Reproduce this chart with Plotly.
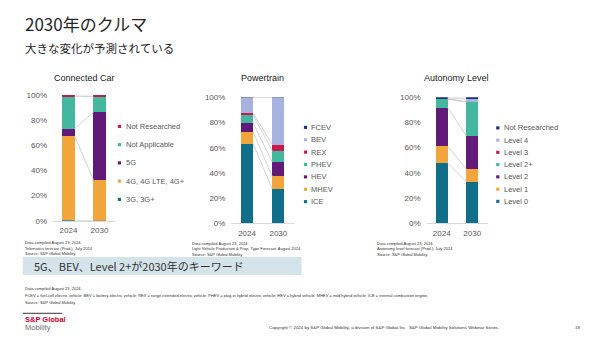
import plotly.graph_objects as go
import numpy as np

W, H = 602, 340
years = ["2024", "2030"]

# ---- Data (percent shares) ----
cc_series = ["3G, 3G+", "4G, 4G LTE, 4G+", "5G", "Not Applicable", "Not Researched"]
cc_2024 = [0.3, 67.0, 5.9, 25.6, 1.2]
cc_2030 = [0.1, 32.6, 53.4, 12.5, 1.4]

pt_series = ["ICE", "MHEV", "HEV", "PHEV", "REX", "BEV", "FCEV"]
pt_2024 = [63.3, 9.1, 7.4, 6.0, 1.5, 12.6, 0.1]
pt_2030 = [27.1, 10.1, 11.4, 9.0, 4.9, 37.3, 0.2]

al_series = ["Level 0", "Level 1", "Level 2", "Level 2+", "Level 3", "Level 4", "Not Researched"]
al_2024 = [47.6, 13.3, 30.9, 6.7, 0.1, 0.1, 1.3]
al_2030 = [33.0, 10.3, 26.1, 26.7, 0.4, 2.2, 1.3]

chart_titles = ["Connected Car", "Powertrain", "Autonomy Level"]
y_ticks = [0, 20, 40, 60, 80, 100]
y_tick_labels = ["0%", "20%", "40%", "60%", "80%", "100%"]

# ---- Colours ----
TEAL, ORANGE, PURPLE, GREEN = "#0f6f8a", "#f2a53b", "#621a78", "#44b79f"
RED, LAV, NAVY = "#c9184a", "#a8b2e0", "#1f2e78"
cc_colors = [TEAL, ORANGE, PURPLE, GREEN, RED]
pt_colors = [TEAL, ORANGE, PURPLE, GREEN, RED, LAV, NAVY]
al_colors = [TEAL, ORANGE, PURPLE, GREEN, RED, LAV, NAVY]

LAT = "Liberation Sans, Arial, sans-serif"
JP = "Noto Sans CJK JP, sans-serif"


def px(x):
    return x / W


def py(y):
    return 1 - y / H


BW = 0.39
fig = go.Figure()

charts = [
    dict(series=cc_series, v1=cc_2024, v2=cc_2030, colors=cc_colors,
         xdom=(53, 115), ydom=(222.7, 93.3),
         leg_mx=119.4, leg_tx=124.0, leg_y0=125.7, leg_dy=18.75),
    dict(series=pt_series, v1=pt_2024, v2=pt_2030, colors=pt_colors,
         xdom=(231.4, 294.0), ydom=(225.0, 96.0),
         leg_mx=305.5, leg_tx=309.0, leg_y0=126.7, leg_dy=12.72),
    dict(series=al_series, v1=al_2024, v2=al_2030, colors=al_colors,
         xdom=(426.5, 487.5), ydom=(225.3, 95.7),
         leg_mx=497.8, leg_tx=501.7, leg_y0=127.3, leg_dy=12.57),
]

annotations = []
shapes = []

for i, c in enumerate(charts):
    sfx = "" if i == 0 else str(i + 1)
    xa, ya = "x" + sfx, "y" + sfx
    for name, a, b, col in zip(c["series"], c["v1"], c["v2"], c["colors"]):
        fig.add_trace(go.Bar(x=[0, 1], y=[a, b], name=name, marker_color=col,
                             marker_line_width=0, width=BW, xaxis=xa, yaxis=ya,
                             showlegend=False))
    # series lines
    c1 = np.cumsum(c["v1"])
    c2 = np.cumsum(c["v2"])
    lx, ly = [], []
    for a, b in zip(c1, c2):
        lx += [BW / 2, 1 - BW / 2, None]
        ly += [a, b, None]
    fig.add_trace(go.Scatter(x=lx, y=ly, mode="lines", xaxis=xa, yaxis=ya,
                             line=dict(color="#c8c8c8", width=0.8),
                             showlegend=False, hoverinfo="skip"))
    xd = [px(c["xdom"][0]), px(c["xdom"][1])]
    yd = [py(c["ydom"][0]), py(c["ydom"][1])]
    fig.update_layout(**{
        "xaxis" + sfx: dict(domain=xd, range=[-0.5, 1.5], tickvals=[0, 1], ticktext=years,
                            showgrid=False, zeroline=False, showline=True,
                            linecolor="#d9d9d9", linewidth=1, anchor=ya,
                            tickfont=dict(family=LAT, size=8, color="#595959"),
                            ticks="", ticklabelstandoff=2, fixedrange=True),
        "yaxis" + sfx: dict(domain=yd, range=[0, 100], tickvals=y_ticks, ticktext=y_tick_labels,
                            showgrid=False, zeroline=False, showline=False, anchor=xa,
                            tickfont=dict(family=LAT, size=8, color="#595959"),
                            ticks="", ticklabelstandoff=5, fixedrange=True),
    })
    # chart title
    annotations.append(dict(text=chart_titles[i], x=(xd[0] + xd[1]) / 2, y=py(76),
                            xref="paper", yref="paper", showarrow=False,
                            xanchor="center", yanchor="middle",
                            font=dict(family=LAT, size=9, color="#1a1a1a")))
    # custom legend (top item = top of stack)
    for k, (name, col) in enumerate(zip(c["series"][::-1], c["colors"][::-1])):
        yy = c["leg_y0"] + k * c["leg_dy"]
        shapes.append(dict(type="rect", xref="paper", yref="paper",
                           x0=px(c["leg_mx"] - 1.6), x1=px(c["leg_mx"] + 1.6),
                           y0=py(yy + 1.6), y1=py(yy - 1.6),
                           fillcolor=col, line_width=0))
        annotations.append(dict(text=name, x=px(c["leg_tx"]), y=py(yy),
                                xref="paper", yref="paper", showarrow=False,
                                xanchor="left", yanchor="middle",
                                font=dict(family=LAT, size=7.5, color="#595959")))

# Slide title texts
annotations.append(dict(text="2030年のクルマ", x=px(22.5), y=py(20), xref="paper", yref="paper",
                        showarrow=False, xanchor="left", yanchor="middle",
                        font=dict(family=JP, size=17, color="#262626")))
annotations.append(dict(text="大きな変化が予測されている", x=px(23), y=py(45.7), xref="paper",
                        yref="paper", showarrow=False, xanchor="left", yanchor="middle",
                        font=dict(family=JP, size=11.5, color="#262626")))

# notes under charts
notes = [
    ["Data compiled August 23, 2024.", "Telematics forecast (Prod.), July 2024",
     "Source: S&P Global Mobility."],
    ["Data compiled August 23, 2024.", "Light Vehicle Production & Prop. Type Forecast, August 2024",
     "Source: S&P Global Mobility"],
    ["Data compiled August 23, 2024.", "Autonomy level forecast (Prod.), July 2024",
     "Source: S&P Global Mobility."],
]
note_pos = [(23, 245.0), (190, 245.5), (375, 245.7)]
for lines, (nx, ny) in zip(notes, note_pos):
    for k, t in enumerate(lines):
        annotations.append(dict(text=t, x=px(nx), y=py(ny + k * 5.7), xref="paper", yref="paper",
                                showarrow=False, xanchor="left", yanchor="middle",
                                font=dict(family=LAT, size=4, color="#333333")))

# key message box
shapes.append(dict(type="rect", xref="paper", yref="paper", x0=px(22.7), x1=px(301.5),
                   y0=py(278.3), y1=py(260), fillcolor="#d4e4ea", line_width=0, layer="below"))
annotations.append(dict(text="5G、BEV、Level 2+が2030年のキーワード", x=px(32), y=py(269.5),
                        xref="paper", yref="paper", showarrow=False, xanchor="left",
                        yanchor="middle", font=dict(family=JP, size=11, color="#333333")))

bottom_notes = [
    "Data compiled August 23, 2024.",
    "FCEV = fuel-cell electric vehicle; BEV = battery-electric vehicle; REX = range extended electric vehicle; "
    "PHEV = plug-in hybrid electric vehicle; HEV = hybrid vehicle; MHEV = mild hybrid vehicle; "
    "ICE = internal combustion engine.",
    "Source: S&P Global Mobility",
]
for k, t in enumerate(bottom_notes):
    annotations.append(dict(text=t, x=px(23), y=py(292.3 + k * 7), xref="paper", yref="paper",
                            showarrow=False, xanchor="left", yanchor="middle",
                            font=dict(family=LAT, size=4, color="#333333")))

# footer
shapes.append(dict(type="line", xref="paper", yref="paper", x0=px(23), x1=px(62),
                   y0=py(317.7), y1=py(317.7), line=dict(color="#333333", width=1)))
annotations.append(dict(text="<b>S&P Global</b>", x=px(22.5), y=py(324.5), xref="paper", yref="paper",
                        showarrow=False, xanchor="left", yanchor="middle",
                        font=dict(family=LAT, size=7.5, color="#d6002a")))
annotations.append(dict(text="Mobility", x=px(22.5), y=py(332.5), xref="paper", yref="paper",
                        showarrow=False, xanchor="left", yanchor="middle",
                        font=dict(family=LAT, size=7.5, color="#6e6e6e")))
annotations.append(dict(text="Copyright © 2024 by S&P Global Mobility, a division of S&P Global Inc.  "
                             "S&P Global Mobility Solutions Webinar Series.",
                        x=px(267), y=py(332.3), xref="paper", yref="paper", showarrow=False,
                        xanchor="left", yanchor="middle",
                        font=dict(family=LAT, size=4.4, color="#333333")))
annotations.append(dict(text="18", x=px(577), y=py(332.3), xref="paper", yref="paper",
                        showarrow=False, xanchor="center", yanchor="middle",
                        font=dict(family=LAT, size=4.4, color="#333333")))

fig.update_layout(width=W, height=H, margin=dict(l=0, r=0, t=0, b=0),
                  paper_bgcolor="white", plot_bgcolor="white", barmode="stack",
                  showlegend=False, annotations=annotations, shapes=shapes,
                  font=dict(family=LAT))
fig.write_html("out.html", config={"displayModeBar": False})
